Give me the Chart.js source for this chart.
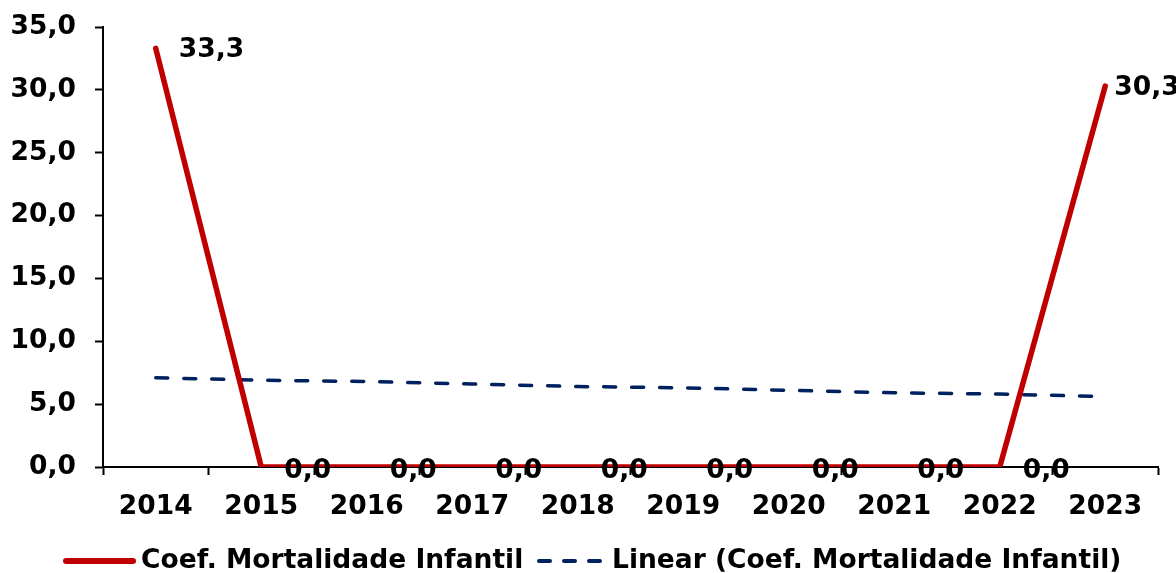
<!DOCTYPE html>
<html>
<head>
<meta charset="utf-8">
<script src="https://cdn.jsdelivr.net/npm/chart.js@4"></script>
<style>
  html, body { margin: 0; padding: 0; background: #fff; }
  #wrap { width: 1176px; height: 573px; }
</style>
</head>
<body>
<div id="wrap"><canvas id="mortalidadeChart" width="1176" height="573"></canvas></div>
<script>
// data
const years = ["2014", "2015", "2016", "2017", "2018", "2019", "2020", "2021", "2022", "2023"];
const coefMortalidade = [33.3, 0, 0, 0, 0, 0, 0, 0, 0, 30.3];
const tendenciaLinear = [7.1, 6.9, 6.8, 6.6, 6.4, 6.3, 6.1, 5.9, 5.8, 5.6];
const yTicks = [0, 5, 10, 15, 20, 25, 30, 35];

const fontFamily = "'DejaVu Sans', Verdana, sans-serif";
const fontSize = 26.5;
const red = "#C00000";
const navy = "#002060";

const fmt = (v) => v.toFixed(1).replace(".", ",");

// value labels to the right of each point (Excel style), last one sits closer
const valueLabels = {
  id: "valueLabels",
  afterDatasetsDraw(chart) {
    const ctx = chart.ctx;
    const meta = chart.getDatasetMeta(0);
    ctx.save();
    ctx.font = "bold " + fontSize + "px " + fontFamily;
    ctx.fillStyle = "#000";
    ctx.textAlign = "left";
    ctx.textBaseline = "middle";
    meta.data.forEach((pt, i) => {
      const dx = i === meta.data.length - 1 ? 9 : 23;
      const dy = coefMortalidade[i] === 0 ? 4 : 2;
      ctx.fillText(fmt(coefMortalidade[i]), pt.x + dx, pt.y + dy);
    });
    ctx.restore();
  },
};

// bottom legend
const bottomLegend = {
  id: "bottomLegend",
  afterDraw(chart) {
    const ctx = chart.ctx;
    const y = 561;
    ctx.save();
    ctx.lineCap = "round";
    ctx.strokeStyle = red;
    ctx.lineWidth = 6;
    ctx.beginPath();
    ctx.moveTo(66, y);
    ctx.lineTo(133, y);
    ctx.stroke();

    ctx.strokeStyle = navy;
    ctx.lineWidth = 4;
    ctx.setLineDash([11, 14]);
    ctx.beginPath();
    ctx.moveTo(539, y);
    ctx.lineTo(606, y);
    ctx.stroke();
    ctx.setLineDash([]);

    ctx.font = "bold " + fontSize + "px " + fontFamily;
    ctx.fillStyle = "#000";
    ctx.textAlign = "left";
    ctx.textBaseline = "middle";
    ctx.fillText(chart.data.datasets[0].label, 141, y);
    ctx.fillText(chart.data.datasets[1].label, 612, y);
    ctx.restore();
  },
};

const ctx = document.getElementById("mortalidadeChart");
const chart = new Chart(ctx, {
  type: "line",
  data: {
    labels: years,
    datasets: [
      {
        label: "Coef. Mortalidade Infantil",
        data: coefMortalidade,
        borderColor: red,
        borderWidth: 5.5,
        borderJoinStyle: "round",
        borderCapStyle: "round",
        pointRadius: 0,
        tension: 0,
        order: 0,
      },
      {
        label: "Linear (Coef. Mortalidade Infantil)",
        data: tendenciaLinear,
        borderColor: navy,
        borderWidth: 3.5,
        borderDash: [12, 16],
        borderCapStyle: "round",
        pointRadius: 0,
        tension: 0,
        order: 1,
      },
    ],
  },
  options: {
    responsive: false,
    animation: false,
    events: [],
    layout: { padding: { top: 27, right: 18, bottom: 0, left: 0 } },
    plugins: {
      legend: { display: false },
      tooltip: { enabled: false },
    },
    scales: {
      x: {
        offset: true,
        grid: {
          offset: true,
          drawOnChartArea: false,
          drawTicks: true,
          tickLength: 8,
          tickWidth: 2,
          tickColor: "#000",
        },
        border: { color: "#000", width: 2 },
        ticks: {
          color: "#000",
          padding: 16,
          maxRotation: 0,
          autoSkip: false,
          font: { family: fontFamily, size: fontSize, weight: "bold" },
        },
        afterFit(scale) {
          scale.height = 106;
          scale.paddingLeft = 0;
          scale.paddingRight = 0;
        },
      },
      y: {
        min: 0,
        max: 35,
        afterBuildTicks(scale) {
          scale.ticks = yTicks.map((v) => ({ value: v }));
        },
        grid: {
          drawOnChartArea: false,
          drawTicks: true,
          tickLength: 8,
          tickWidth: 2,
          tickColor: "#000",
        },
        border: { color: "#000", width: 2 },
        ticks: {
          color: "#000",
          padding: 19,
          callback: (v) => fmt(v),
          font: { family: fontFamily, size: fontSize, weight: "bold" },
        },
        afterFit(scale) {
          scale.width = 103;
          scale.paddingTop = 0;
          scale.paddingBottom = 0;
        },
      },
    },
  },
  plugins: [valueLabels, bottomLegend],
});
</script>
</body>
</html>
